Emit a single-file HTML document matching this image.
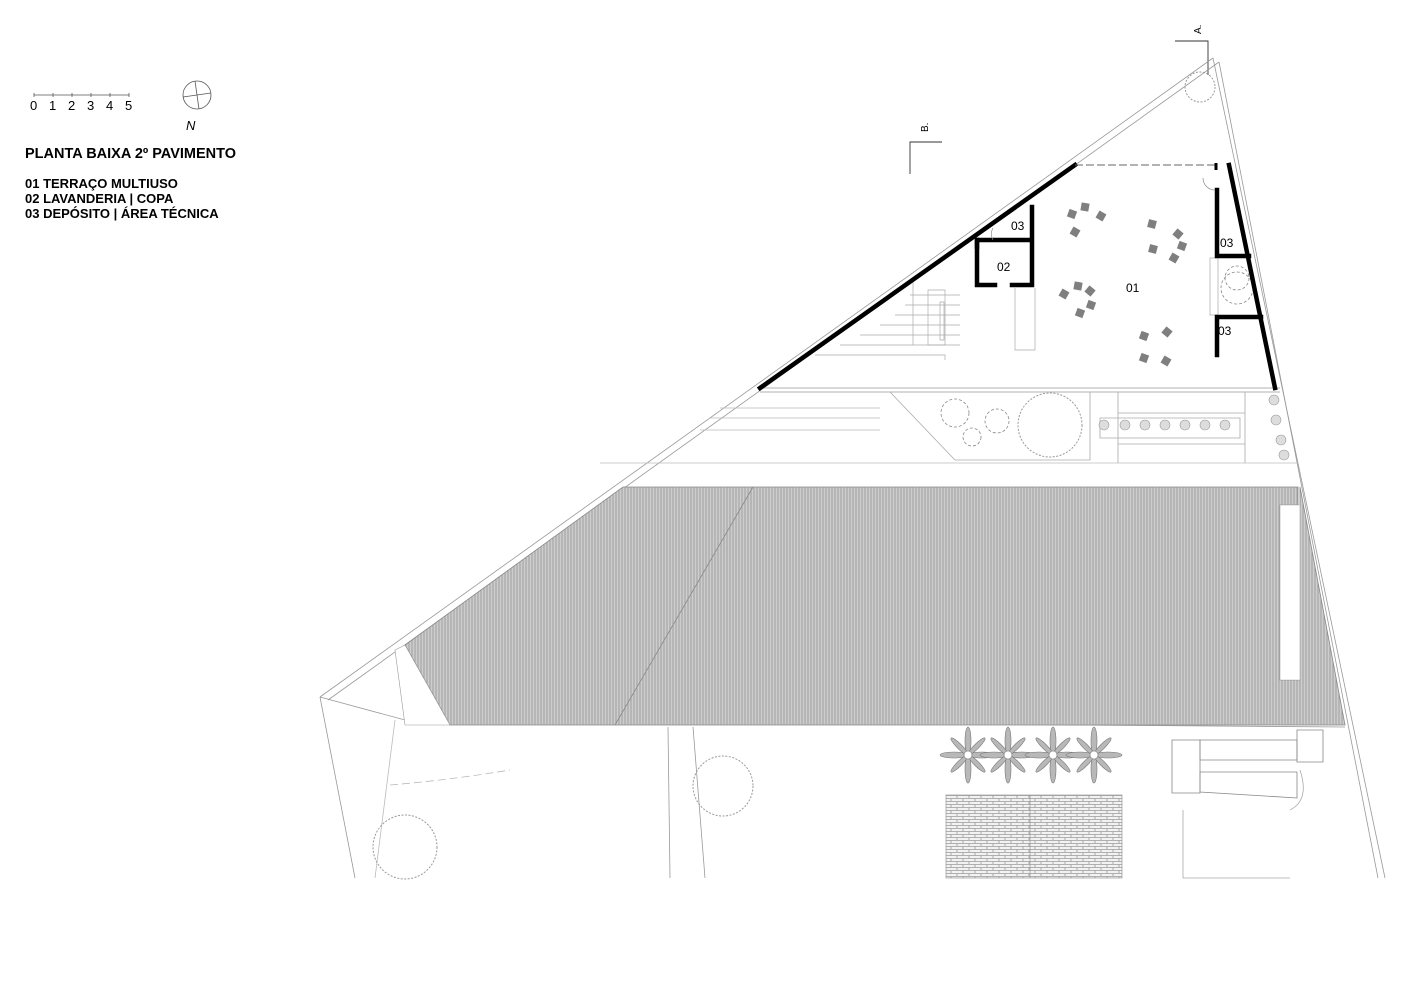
<!DOCTYPE html>
<html><head><meta charset="utf-8"><style>
html,body{margin:0;padding:0;background:#fff;}
svg{display:block;}
text{font-family:"Liberation Sans",Arial,sans-serif;}
</style></head><body>
<svg width="1414" height="1000" viewBox="0 0 1414 1000" xmlns="http://www.w3.org/2000/svg">
<defs>
<pattern id="roof" width="3" height="10" patternUnits="userSpaceOnUse">
<rect width="3" height="10" fill="#cdcdcd"/><line x1="1" y1="0" x2="1" y2="10" stroke="#a0a0a0" stroke-width="1"/>
</pattern>
<pattern id="brick" width="12" height="6" patternUnits="userSpaceOnUse">
<rect width="12" height="6" fill="#f2f2f2"/>
<path d="M0 0.5H12M0 3.5H12M3 0.5V3.5M9 3.5V6" stroke="#9a9a9a" stroke-width="0.8" fill="none"/>
</pattern>
<g id="star" stroke="#777" stroke-width="0.6" fill="#b8b8b8">
<ellipse cx="0" cy="-14" rx="3" ry="14"/><ellipse cx="0" cy="14" rx="3" ry="14"/>
<ellipse cx="-14" cy="0" rx="14" ry="3"/><ellipse cx="14" cy="0" rx="14" ry="3"/>
<ellipse cx="0" cy="-12" rx="2.5" ry="12" transform="rotate(45)"/><ellipse cx="0" cy="12" rx="2.5" ry="12" transform="rotate(45)"/>
<ellipse cx="0" cy="-12" rx="2.5" ry="12" transform="rotate(-45)"/><ellipse cx="0" cy="12" rx="2.5" ry="12" transform="rotate(-45)"/>
<circle r="4" fill="#fff"/>
</g>
</defs>

<!-- legend -->
<g stroke="#555" stroke-width="0.8" fill="none">
<line x1="34" y1="95" x2="129" y2="95"/>
<line x1="34" y1="93" x2="34" y2="97"/><line x1="53" y1="93" x2="53" y2="97"/><line x1="72" y1="93" x2="72" y2="97"/>
<line x1="91" y1="93" x2="91" y2="97"/><line x1="110" y1="93" x2="110" y2="97"/><line x1="129" y1="93" x2="129" y2="97"/>
<circle cx="197" cy="95" r="14"/>
<line x1="183" y1="97" x2="211" y2="93"/><line x1="195" y1="81" x2="199" y2="109"/>
</g>
<g font-size="13" fill="#000">
<text x="30" y="110">0</text><text x="49" y="110">1</text><text x="68" y="110">2</text><text x="87" y="110">3</text><text x="106" y="110">4</text><text x="125" y="110">5</text>
<text x="186" y="130" font-style="italic">N</text>
</g>
<g font-weight="bold" fill="#000">
<text x="25" y="158" font-size="14.5">PLANTA BAIXA 2º PAVIMENTO</text>
<text x="25" y="188" font-size="13">01 TERRAÇO MULTIUSO</text>
<text x="25" y="203" font-size="13">02 LAVANDERIA | COPA</text>
<text x="25" y="218" font-size="13">03 DEPÓSITO | ÁREA TÉCNICA</text>
</g>

<!-- section marks -->
<g stroke="#333" stroke-width="0.9" fill="none">
<path d="M1175 41H1208V75"/>
<path d="M942 142H910V174"/>
</g>
<text x="0" y="0" font-size="10" transform="translate(1201,34) rotate(-90)">A.</text>
<text x="0" y="0" font-size="10" transform="translate(928,132) rotate(-90)">B.</text>

<!-- site outline -->
<g stroke="#999" stroke-width="0.8" fill="none">
<path d="M1213 58L320 697"/>
<path d="M1219 62L328 700"/>
<path d="M1213 58L1385 878"/>
<path d="M1219 62L1378 878"/>
<path d="M320 697L355 878"/>
<path d="M320 697L405 720L1345 727"/>
<path d="M395 720L375 878" stroke="#bbb"/>
<path d="M668 727L670 878"/><path d="M693 727L705 878"/>
<path d="M760 392H1280"/><path d="M760 388H1280"/>
<path d="M890 392L955 460H1090V392" stroke="#aaa"/>
<path d="M600 463H1298" stroke="#bbb"/>
<path d="M1118 392V463M1118 413H1245M1118 444H1245M1245 392V463" stroke="#aaa"/>
<path d="M1100 418H1240V438H1100Z" stroke="#aaa"/>
<path d="M720 408H880M710 418H880M700 430H880" stroke="#bbb"/>
<path d="M1183 810V878H1290M1300 770Q1310 800 1290 810" stroke="#aaa"/>
<path d="M390 785Q450 780 510 770" stroke="#bbb" stroke-dasharray="8 4"/>
</g>

<!-- landscape trees -->
<g stroke="#999" stroke-width="1" fill="none" stroke-dasharray="2 1.5">
<circle cx="1200" cy="87" r="15"/>
<circle cx="1050" cy="425" r="32"/>
<circle cx="723" cy="786" r="30"/>
<circle cx="405" cy="847" r="32"/>
</g>
<g fill="none" stroke="#888" stroke-width="0.8">
<circle cx="955" cy="413" r="14" stroke-dasharray="3 2"/>
<circle cx="997" cy="421" r="12" stroke-dasharray="3 2"/>
<circle cx="972" cy="437" r="9" stroke-dasharray="3 2"/>
<circle cx="1237" cy="288" r="16" stroke-dasharray="3 2"/>
<circle cx="1237" cy="278" r="12" stroke-dasharray="3 2"/>
</g>
<g fill="#ddd" stroke="#999" stroke-width="0.6">
<circle cx="1104" cy="425" r="5"/><circle cx="1125" cy="425" r="5"/><circle cx="1145" cy="425" r="5"/><circle cx="1165" cy="425" r="5"/><circle cx="1185" cy="425" r="5"/><circle cx="1205" cy="425" r="5"/><circle cx="1225" cy="425" r="5"/>
<circle cx="1274" cy="400" r="5"/><circle cx="1276" cy="420" r="5"/><circle cx="1281" cy="440" r="5"/><circle cx="1284" cy="455" r="5"/>
</g>

<!-- roof -->
<path d="M623 487H1298V505H1280V680H1300V487L1345 725H450L405 645Z" fill="url(#roof)" stroke="#888" stroke-width="0.8"/>
<path d="M1280 505H1300V680H1280Z" fill="#fff" stroke="#aaa" stroke-width="0.6"/>
<path d="M395 650L405 645L450 725H405Z" fill="#fff" stroke="#999" stroke-width="0.6"/>
<line x1="753" y1="487" x2="615" y2="725" stroke="#888" stroke-width="0.8"/>

<!-- stars & bricks -->
<use href="#star" x="968" y="755"/><use href="#star" x="1008" y="755"/><use href="#star" x="1053" y="755"/><use href="#star" x="1094" y="755"/>
<rect x="946" y="795" width="176" height="83" fill="url(#brick)" stroke="#888" stroke-width="0.6"/>
<line x1="1030" y1="795" x2="1030" y2="878" stroke="#888" stroke-width="0.6"/>
<g fill="none" stroke="#888" stroke-width="0.8">
<path d="M1172 740H1200V793H1172Z"/><path d="M1200 740H1297V760H1200Z"/><path d="M1200 772H1297L1297 798L1200 792Z"/><path d="M1297 730H1323V762H1297Z"/>
</g>

<!-- interior stairs / elements -->
<g stroke="#aaa" stroke-width="0.7" fill="none">
<path d="M913 280V345M1015 288V350H1035V288"/>
<path d="M815 355H945V360"/>
<path d="M840 345H960M860 335H960M880 325H960M895 315H960M905 305H960M910 295H960"/>
<path d="M928 290H945V345H928Z"/><path d="M940 302H944V340H940Z"/>
<path d="M1210 258V315H1218V258Z"/>
</g>

<!-- thick walls -->
<g stroke="#000" stroke-width="4.5" fill="none" stroke-linecap="square">
<path d="M760 388L1075 165"/>
<path d="M1229 165L1275 388"/>
<path d="M1032 207V285H1012M995 285H977V240H1032"/>
<path d="M977 240V247"/>
<path d="M1217 190V256H1249"/>
<path d="M1217 355V317H1261"/>
</g>
<path d="M1075 165H1218" stroke="#666" stroke-width="1" stroke-dasharray="8 3"/>
<path d="M1216 163V170" stroke="#000" stroke-width="3"/>
<path d="M993 240A12 12 0 0 1 993 228 M1215 190A12 12 0 0 1 1203 178" stroke="#888" fill="none" stroke-width="0.7"/>

<!-- chairs -->
<g fill="#7f7f7f">
<rect x="1068" y="210" width="8" height="8" transform="rotate(20 1072 214)"/>
<rect x="1081" y="203" width="8" height="8" transform="rotate(10 1085 207)"/>
<rect x="1097" y="212" width="8" height="8" transform="rotate(30 1101 216)"/>
<rect x="1071" y="228" width="8" height="8" transform="rotate(30 1075 232)"/>
<rect x="1148" y="220" width="8" height="8" transform="rotate(15 1152 224)"/>
<rect x="1174" y="230" width="8" height="8" transform="rotate(40 1178 234)"/>
<rect x="1149" y="245" width="8" height="8" transform="rotate(15 1153 249)"/>
<rect x="1178" y="242" width="8" height="8" transform="rotate(20 1182 246)"/>
<rect x="1170" y="254" width="8" height="8" transform="rotate(30 1174 258)"/>
<rect x="1060" y="290" width="8" height="8" transform="rotate(30 1064 294)"/>
<rect x="1074" y="282" width="8" height="8" transform="rotate(10 1078 286)"/>
<rect x="1086" y="287" width="8" height="8" transform="rotate(40 1090 291)"/>
<rect x="1087" y="301" width="8" height="8" transform="rotate(20 1091 305)"/>
<rect x="1076" y="309" width="8" height="8" transform="rotate(20 1080 313)"/>
<rect x="1140" y="332" width="8" height="8" transform="rotate(20 1144 336)"/>
<rect x="1163" y="328" width="8" height="8" transform="rotate(40 1167 332)"/>
<rect x="1140" y="354" width="8" height="8" transform="rotate(20 1144 358)"/>
<rect x="1162" y="357" width="8" height="8" transform="rotate(30 1166 361)"/>
</g>

<!-- room labels -->
<g font-size="12" fill="#000">
<text x="1011" y="230">03</text>
<text x="997" y="271">02</text>
<text x="1126" y="292">01</text>
<text x="1220" y="247">03</text>
<text x="1218" y="335">03</text>
</g>
</svg>
</body></html>
